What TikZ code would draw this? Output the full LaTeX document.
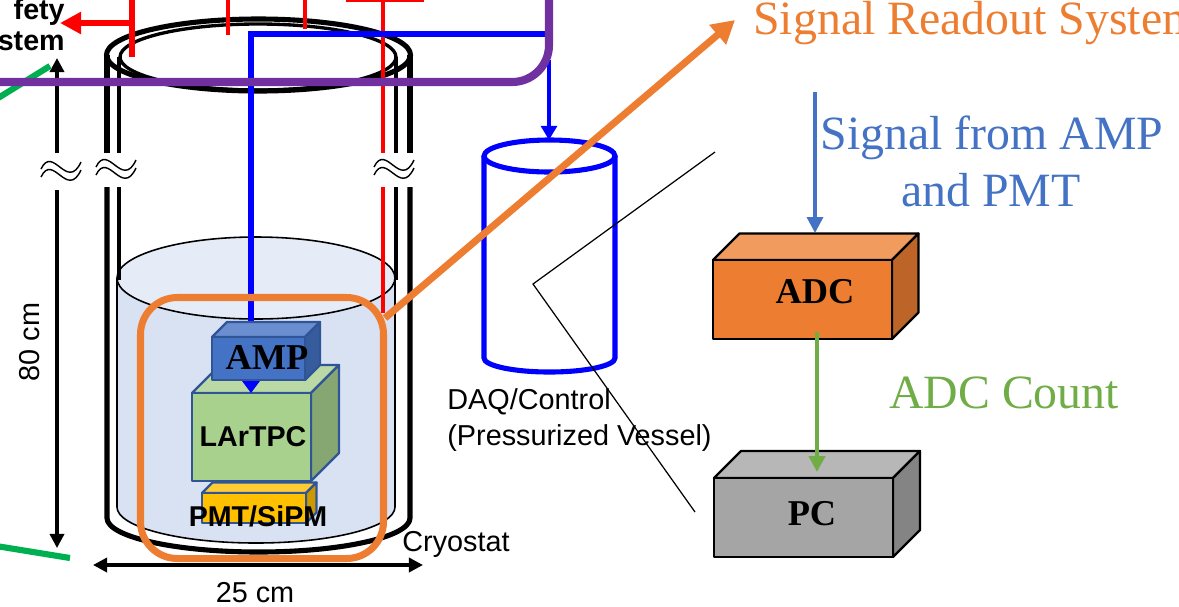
\documentclass[tikz,border=0pt]{standalone}
\usepackage{xcolor}
\usepackage{fontspec}
\setmainfont{Liberation Sans}
\newfontfamily\serifnm{Liberation Serif}
\usetikzlibrary{arrows.meta}
\definecolor{argonblue}{RGB}{217, 226, 243}
\definecolor{argontop}{RGB}{230, 236, 247}
\definecolor{readoutorange}{RGB}{237, 125, 49}
\definecolor{signalblue}{RGB}{68, 114, 196}
\definecolor{countgreen}{RGB}{112, 173, 71}
\definecolor{busgreen}{RGB}{0, 176, 80}
\definecolor{buspurple}{RGB}{112, 48, 160}
\definecolor{edgeblue}{RGB}{47, 85, 151}
\definecolor{pmtfront}{RGB}{255, 192, 0}
\definecolor{pmttop}{RGB}{255, 204, 51}
\definecolor{pmtside}{RGB}{204, 154, 0}
\definecolor{tpcfront}{RGB}{169, 209, 142}
\definecolor{tpctop}{RGB}{187, 217, 165}
\definecolor{tpcside}{RGB}{135, 167, 114}
\definecolor{ampfront}{RGB}{68, 114, 196}
\definecolor{amptop}{RGB}{106, 142, 208}
\definecolor{ampside}{RGB}{54, 92, 158}
\definecolor{adcfront}{RGB}{237, 125, 49}
\definecolor{adctop}{RGB}{241, 155, 94}
\definecolor{adcside}{RGB}{189, 101, 40}
\definecolor{pcfront}{RGB}{165, 165, 165}
\definecolor{pctop}{RGB}{183, 183, 183}
\definecolor{pcside}{RGB}{132, 132, 132}
\tikzset{
    wall/.style={line width=2.9pt},
    innerwall/.style={line width=1.9pt},
    redline/.style={red, line width=2.3pt},
    blueline/.style={blue, line width=2.9pt},
    blackdim/.style={line width=1.9pt, {Triangle[length=8pt,width=8pt]}-{Triangle[length=8pt,width=8pt]}},
    blackup/.style={line width=1.9pt, -{Triangle[length=8pt,width=8pt]}},
    wave/.style={line width=0.8pt},
    sanslabel/.style={font=\fontsize{16.4}{19}\selectfont, inner sep=0pt},
    boldlabel/.style={font=\fontsize{16.3}{19}\selectfont\bfseries, inner sep=0pt},
    seriflabel/.style={font=\serifnm\fontsize{20.7}{24}\selectfont\bfseries, inner sep=0pt},
    biglabel/.style={font=\serifnm\fontsize{27.2}{32}\selectfont, inner sep=0pt, anchor=base}
}
% box with top and side face: name, corners of the front, depth, edge colour
\newcommand{\cuboid}[7]{
    \fill[#1top, draw=#7, line width=1.3pt, line join=round] (#2,#3) -- ++(#6,-#6) -- ++(#4-#2,0) -- ++(-#6,#6) -- cycle;
    \fill[#1side, draw=#7, line width=1.3pt, line join=round] (#4,#3) -- ++(#6,-#6) -- ++(0,#5-#3) -- ++(-#6,#6) -- cycle;
    \fill[#1front, draw=#7, line width=1.3pt, line join=round] (#2,#3) rectangle (#4,#5);
}
\begin{document}
\begin{tikzpicture}[x=0.02cm, y=-0.02cm]
    \useasboundingbox (0,0) rectangle (1179,606);

    % Liquid argon
    \fill[argonblue] (117,278) -- (117,507) arc[start angle=180, end angle=0, x radius=139, y radius=36] -- (395,278) -- cycle;
    \draw[line width=0.9pt] (117,278) -- (117,507) arc[start angle=180, end angle=0, x radius=139, y radius=36] -- (395,278);
    \draw[fill=argontop, line width=0.9pt] (256,278) ellipse[x radius=139, y radius=41];

    % Cryostat
    \draw[wall] (258.5,55) ellipse[x radius=152, y radius=36];
    \draw[innerwall] (258,57) ellipse[x radius=138, y radius=33];
    \foreach \wallx in {107,410} {
        \draw[wall] (\wallx,55) -- (\wallx,153);
    }
    \foreach \wallx in {119,396} {
        \draw[innerwall] (\wallx,57) -- (\wallx,153);
        \draw[innerwall] (\wallx,187) -- (\wallx,280);
    }
    \draw[wall] (107,187) -- (107,518) arc[start angle=180, end angle=0, x radius=151.5, y radius=34] -- (410,187);

    % Red lines
    \draw[red, line width=3.9pt] (132,0) -- (132,57);
    \coordinate (safetystart) at (132,23);
    \coordinate (safetyend) at (60,23);
    \draw[red, line width=3.9pt, -{Triangle[length=12pt,width=12pt]}] (safetystart) -- (safetyend);
    \draw[redline] (228,0) -- (228,35);
    \draw[redline] (305,0) -- (305,29);
    \draw[redline] (346,0) -- (424,0);
    \draw[redline] (383,0) -- (383,153);
    \draw[redline] (383,187) -- (383,313);

    % Blue signal line
    \coordinate (ampin) at (251,322);
    \draw[blueline] (545,34) -- (251,34) -- (ampin);

    % Boxes in the argon
    \cuboid{pmt}{202}{493}{306}{523}{10.5}{edgeblue}
    \cuboid{tpc}{192}{393}{311}{481}{28}{edgeblue}
    \coordinate (ampout) at (251,375);
    \coordinate (tpcin) at (251,393);
    \draw[blue, line width=1.6pt, -{Triangle[length=7pt,width=10pt]}] (ampout) -- (tpcin);
    \cuboid{amp}{212}{337}{305}{380}{15}{edgeblue}

    % Labels on boxes
    \node[seriflabel] (amplabel) at (267,357) {AMP};
    \node[boldlabel] (lartpclabel) at (253,437) {LArTPC};
    \node[boldlabel] (pmtlabel) at (258,516) {PMT/SiPM};

    % Dimensions and breaks
    \coordinate (heightmid) at (57,153);
    \coordinate (heighttop) at (57,58);
    \coordinate (heightlow) at (57,190);
    \coordinate (heightbot) at (57,548);
    \draw[blackup] (heightmid) -- (heighttop);
    \draw[blackup] (heightlow) -- (heightbot);
    \coordinate (widthleft) at (93,565);
    \coordinate (widthright) at (423,565);
    \draw[blackdim] (widthleft) -- (widthright);
    \foreach \breakx/\breaky in {61/172, 116/170, 394/170} {
        \foreach \shift in {-4,4} {
            \draw[wave] (\breakx-20,\breaky+\shift+1) .. controls (\breakx-8,\breaky+\shift-24) and (\breakx+6,\breaky+\shift+24) .. (\breakx+20,\breaky+\shift-6);
        }
    }

    % Outside lines
    \draw[busgreen, line width=3.5pt] (50,66) -- (-10,103);
    \draw[busgreen, line width=3.5pt] (70,558) -- (-10,545);

    % DAQ vessel
    \coordinate (daqtop) at (549,140);
    \draw[blue, line width=1.9pt, -{Triangle[length=8pt,width=9pt]}] (549,60) -- (daqtop);
    \draw[blueline] (484,156) -- (484,358) arc[start angle=180, end angle=0, x radius=65.5, y radius=14] -- (615,156);
    \draw[blueline] (549.5,156) ellipse[x radius=65.5, y radius=16];
    \draw[buspurple, line width=4.6pt, rounded corners=21pt] (549,-5) -- (549,82) -- (-5,82);

    % Readout frame and arrow
    \draw[readoutorange, line width=4pt, rounded corners=21pt] (140.5,297.5) rectangle (383.5,558.5);
    \coordinate (framecorner) at (385,318);
    \coordinate (readouttip) at (735,20);
    \draw[readoutorange, line width=4pt, -{Triangle[length=13pt,width=14pt]}] (framecorner) -- (readouttip);

    % Thin bracket
    \coordinate (brackettop) at (715,152);
    \coordinate (bracketmid) at (533,284);
    \coordinate (bracketbot) at (695,512);
    \draw[line width=0.7pt] (brackettop) -- (bracketmid) -- (bracketbot);

    % Readout chain
    \cuboid{adc}{713}{260}{892}{339}{26.5}{black}
    \cuboid{pc}{714}{478}{893}{557}{27}{black}
    \node[seriflabel] (adclabel) at (815,292) {ADC};
    \node[seriflabel] (pclabel) at (812,514) {PC};
    \coordinate (signalin) at (815,92);
    \coordinate (adcin) at (815,233);
    \draw[signalblue, line width=2pt, -{Triangle[length=9pt,width=9pt]}] (signalin) -- (adcin);
    \coordinate (adcout) at (817,332);
    \coordinate (pcin) at (817,472);
    \draw[countgreen, line width=2.4pt, -{Triangle[length=9pt,width=9pt]}] (adcout) -- (pcin);

    % Text
    \node[boldlabel, anchor=east] (safetyone) at (65,12) {fety};
    \node[boldlabel, anchor=east] (safetytwo) at (65,41) {stem};
    \node[sanslabel, anchor=west] (cryolabel) at (402,544) {Cryostat};
    \node[sanslabel] (widthlabel) at (255,593) {25 cm};
    \node[sanslabel, rotate=90] (heightlabel) at (30,342) {80 cm};
    \node[sanslabel, anchor=west] (daqlabel) at (447,402) {DAQ/Control};
    \node[sanslabel, anchor=west] (vessellabel) at (447,438) {(Pressurized Vessel)};
    \node[biglabel, text=readoutorange, anchor=base west] (readoutlabel) at (753,34) {Signal Readout System};
    \node[biglabel, text=signalblue] (signalone) at (992,149) {Signal from AMP};
    \node[biglabel, text=signalblue] (signaltwo) at (991,206) {and PMT};
    \node[biglabel, text=countgreen] (countlabel) at (1004,408) {ADC Count};
\end{tikzpicture}
\end{document}
